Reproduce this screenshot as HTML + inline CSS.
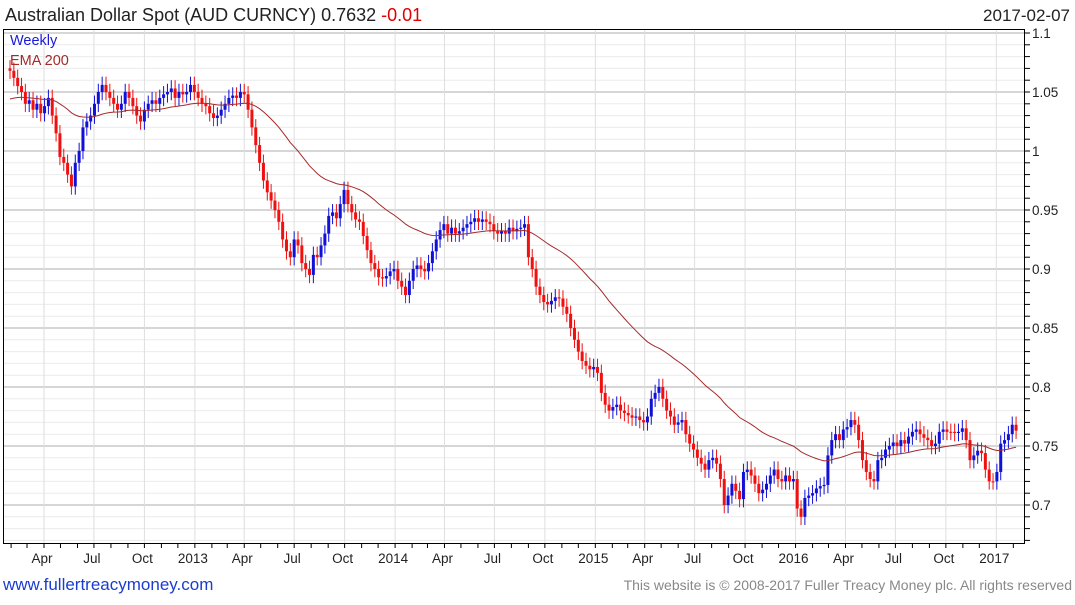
<!DOCTYPE html>
<html><head><meta charset="utf-8">
<style>
html,body{margin:0;padding:0;background:#fff;}
body{width:1075px;height:600px;overflow:hidden;font-family:"Liberation Sans",sans-serif;}
svg text{font-family:"Liberation Sans",sans-serif;}
</style></head>
<body>
<svg id="chart" width="1075" height="600" viewBox="0 0 1075 600" xmlns="http://www.w3.org/2000/svg">
  <text x="5" y="21" font-size="18" fill="#222">Australian Dollar Spot (AUD CURNCY) 0.7632 <tspan fill="#e00000">-0.01</tspan></text>
  <text x="1070" y="21" font-size="17" fill="#222" text-anchor="end">2017-02-07</text>
  <g id="grid"></g>
  <g id="xaxis"></g>
  <g id="yaxis"></g>
  <g id="candles"></g>
  <path id="ema" fill="none" stroke="#a52a2a" stroke-width="1"/>
  <rect x="3.5" y="29.5" width="1021" height="514" fill="none" stroke="#000" stroke-width="1"/>
  <text x="10" y="45" font-size="14.5" fill="#1a1adc">Weekly</text>
  <text x="10" y="65" font-size="14.5" fill="#a52a2a">EMA 200</text>
  <text x="3" y="590" font-size="17" fill="#1a3cd0">www.fullertreacymoney.com</text>
  <text x="1072" y="590" font-size="14" fill="#888" text-anchor="end">This website is © 2008-2017 Fuller Treacy Money plc. All rights reserved</text>
</svg>
<script>
const closes = [1.068,1.062,1.055,1.05,1.04,1.043,1.035,1.040,1.032,1.038,1.045,1.03,1.015,0.995,0.99,0.98,0.97,0.99,1.0,1.02,
1.025,1.03,1.04,1.05,1.056,1.05,1.045,1.04,1.035,1.04,1.05,1.045,1.038,1.03,1.025,1.035,1.04,1.043,1.04,1.045,
1.048,1.05,1.053,1.045,1.05,1.048,1.05,1.056,1.05,1.045,1.04,1.038,1.032,1.028,1.03,1.035,1.04,1.045,1.047,1.045,
1.05,1.048,1.035,1.02,1.005,0.99,0.975,0.965,0.958,0.95,0.94,0.925,0.915,0.91,0.925,0.92,0.905,0.9,0.895,0.912,
0.91,0.92,0.93,0.945,0.948,0.943,0.955,0.967,0.955,0.948,0.942,0.94,0.928,0.916,0.905,0.9,0.893,0.892,0.894,0.898,
0.9,0.89,0.885,0.878,0.89,0.9,0.903,0.9,0.898,0.905,0.915,0.925,0.933,0.938,0.93,0.935,0.93,0.932,0.935,0.938,
0.94,0.943,0.94,0.942,0.94,0.938,0.932,0.93,0.932,0.93,0.935,0.932,0.934,0.935,0.938,0.91,0.9,0.885,0.878,0.872,
0.87,0.873,0.876,0.875,0.868,0.862,0.85,0.84,0.83,0.822,0.818,0.815,0.817,0.812,0.795,0.785,0.78,0.783,0.785,0.78,
0.778,0.776,0.774,0.775,0.772,0.77,0.775,0.79,0.795,0.8,0.79,0.78,0.775,0.768,0.77,0.772,0.76,0.752,0.747,0.74,
0.735,0.73,0.738,0.74,0.735,0.722,0.7,0.708,0.718,0.712,0.705,0.728,0.73,0.725,0.718,0.71,0.713,0.718,0.725,0.73,
0.722,0.72,0.725,0.72,0.722,0.697,0.69,0.706,0.708,0.71,0.714,0.716,0.717,0.742,0.755,0.76,0.755,0.764,0.766,0.772,
0.768,0.755,0.738,0.728,0.722,0.72,0.738,0.74,0.747,0.75,0.753,0.75,0.755,0.752,0.758,0.762,0.764,0.76,0.757,0.755,
0.75,0.752,0.762,0.764,0.762,0.762,0.761,0.762,0.765,0.755,0.738,0.742,0.746,0.744,0.73,0.72,0.72,0.728,0.752,0.755,
0.76,0.768,0.763];
const firstOpen = 1.07;
const emaSeed = 1.043;
const emaPeriod = 45;
const yTicks = [1.1,1.05,1.0,0.95,0.9,0.85,0.8,0.75,0.7];
const yTickLabels = ["1.1","1.05","1","0.95","0.9","0.85","0.8","0.75","0.7"];
const xLabelDates = ["2012-04-01","2012-07-01","2012-10-01","2013-01-01","2013-04-01","2013-07-01","2013-10-01","2014-01-01","2014-04-01","2014-07-01","2014-10-01","2015-01-01","2015-04-01","2015-07-01","2015-10-01","2016-01-01","2016-04-01","2016-07-01","2016-10-01","2017-01-01"];
const xLabels = ["Apr","Jul","Oct","2013","Apr","Jul","Oct","2014","Apr","Jul","Oct","2015","Apr","Jul","Oct","2016","Apr","Jul","Oct","2017"];
const firstWeek = "2012-01-30";

const NS="http://www.w3.org/2000/svg";
const PX_PER_DAY=3.84/7;
const t0=Date.parse(firstWeek);
function xDate(s){return 10+(Date.parse(s)-t0)/86400000*PX_PER_DAY;}
function xIdx(i){return 10+i*3.84;}
function yVal(v){return 33+(1.1-v)*1180;}
function mk(tag,attrs,parent){const e=document.createElementNS(NS,tag);for(const k in attrs)e.setAttribute(k,attrs[k]);parent.appendChild(e);return e;}

const grid=document.getElementById('grid');
for(let k=0;k<=44;k++){
  const v=1.11-k*0.01; const y=yVal(v);
  if(y<30||y>543)continue;
  const major=Math.abs(Math.round(v*100)%5)===0;
  const ln=mk('line',{x1:4,x2:1024,y1:y,y2:y,stroke:major?'#bdbdbd':'#ececec','stroke-width':major?1.2:1},grid);
  
  
  const tk=mk('line',{x1:1025,x2:1030,y1:y,y2:y,stroke:'#000'},grid);
  
  
}
const yaxis=document.getElementById('yaxis');
yTicks.forEach((v,i)=>{
  const t=mk('text',{x:1032,y:yVal(v)+5,'font-size':13.5,fill:'#222'},yaxis);
  t.textContent=yTickLabels[i];
  
  
});
const xaxis=document.getElementById('xaxis');
xLabelDates.forEach((d,i)=>{
  const x=xDate(d);
  const g=mk('line',{x1:x,x2:x,y1:30,y2:543,stroke:'#dedede'},grid);
  
  
  const t=mk('text',{x:x-2,y:563,'font-size':13.5,fill:'#222','text-anchor':'middle'},xaxis);
  t.textContent=xLabels[i];
  
  
});
for(let y=2012;y<=2017;y++)for(let m=0;m<12;m++){
  const d=new Date(Date.UTC(y,m,1)).toISOString().slice(0,10);
  const x=xDate(d); if(x<4||x>1024)continue;
  const tk=mk('line',{x1:x,x2:x,y1:543,y2:548,stroke:'#000'},xaxis);
  
  
}
const cg=document.getElementById('candles');
let prev=firstOpen, ema=emaSeed; const alpha=2/(emaPeriod+1); let path='';
closes.forEach((c,i)=>{
  const o=prev; const x=xIdx(i);
  const up=c>o; const col=up?'#1010d8':'#f01010';
  const hi=Math.max(o,c)+0.007, lo=Math.min(o,c)-0.007;
  const w=mk('line',{x1:x,x2:x,y1:yVal(hi),y2:yVal(lo),stroke:col,'stroke-width':1},cg);
  
  
  const top=yVal(Math.max(o,c)), bot=yVal(Math.min(o,c));
  const b=mk('rect',{x:x-1.5,y:top,width:3,height:Math.max(1,bot-top),fill:col},cg);
  
  
  ema=ema+alpha*(c-ema);
  path+=(i?'L':'M')+x.toFixed(1)+','+yVal(ema).toFixed(1);
  prev=c;
});
document.getElementById('ema').setAttribute('d',path);
</script>
</body></html>
